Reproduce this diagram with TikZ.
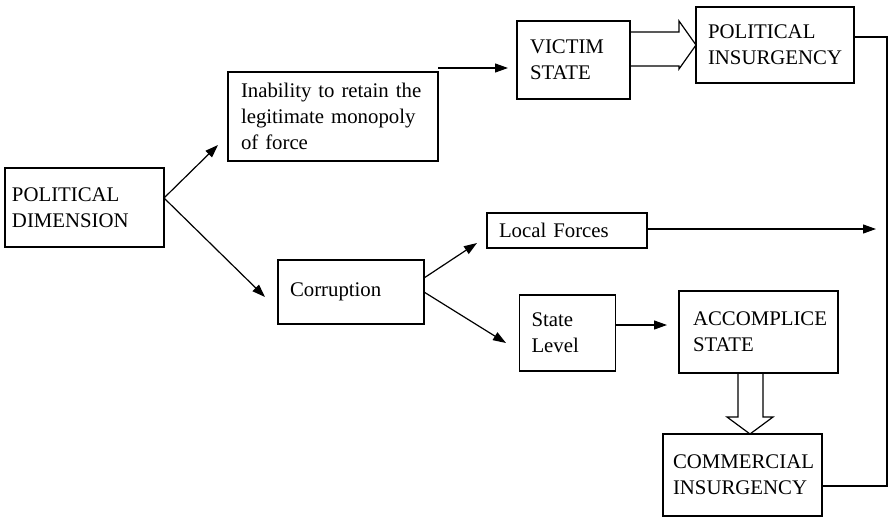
\documentclass[tikz,border=0pt]{standalone}
\usepackage{fontspec}
\setmainfont{Liberation Serif}
\usetikzlibrary{arrows.meta,calc}
\begin{document}
\begin{tikzpicture}[x=1pt,y=-1pt,
  box/.style={draw, line width=1.3pt, align=left, inner ysep=2pt, outer sep=0pt,
    font=\fontsize{20.8}{25.8}\selectfont},
  conn/.style={line width=1.2pt, -{Triangle[length=13pt,width=9pt]}},
  plain/.style={line width=1.2pt},
  hollow/.style={line width=1.2pt, line join=miter}]
\useasboundingbox (0,0) rectangle (888,519);

\node[box, inner xsep=7pt, text width=145pt, minimum height=79pt] (poldim) at (84.5,207.5) {POLITICAL\\DIMENSION};
\node[box, inner xsep=13pt, text width=184pt, minimum height=89pt] (inab) at (333,116.5) {Inability to retain the\\legitimate monopoly\\of force};
\node[box, inner xsep=13pt, text width=87pt, minimum height=78pt] (victim) at (573.5,60) {VICTIM\\STATE};
\node[box, inner xsep=12pt, text width=134pt, minimum height=76pt] (polins) at (775,45) {POLITICAL\\INSURGENCY};
\node[box, inner xsep=12pt, text width=136pt, minimum height=35pt] (localf) at (567,230.5) {Local Forces};
\node[box, inner xsep=12pt, text width=122pt, minimum height=64pt] (corr) at (351,292) {Corruption};
\node[box, inner xsep=12pt, text width=72pt, minimum height=76pt] (statel) at (567.5,333) {State\\Level};
\node[box, inner xsep=14pt, text width=131pt, minimum height=82pt] (accomp) at (758.5,332) {ACCOMPLICE\\STATE};
\node[box, inner xsep=10pt, text width=139pt, minimum height=82pt] (comm) at (742.5,475) {COMMERCIAL\\INSURGENCY};

% branch point and free ends
\coordinate (pd) at ($(poldim.east)+(0,-9.5)$);
\coordinate (tinab) at (218,145);
\coordinate (tcorr) at (265,297);
\coordinate (tlocal) at (477,243);
\coordinate (tstate) at (506,343);
\coordinate (tright) at (876,229);
\coordinate (rtop) at (887,37);
\coordinate (rbot) at (887,486);

\draw[conn] (pd) -- (tinab);
\draw[conn] (pd) -- (tcorr);
\draw[conn] (inab.east |- 0,68) -- ([xshift=-9pt]victim.west |- 0,68);
\draw[conn] (corr.east |- 0,278) -- (tlocal);
\draw[conn] (corr.east |- 0,292) -- (tstate);
\draw[conn] (statel.east |- 0,325) -- ([xshift=-12pt]accomp.west |- 0,325);
\draw[conn] (localf.east |- 0,229) -- (tright);
\draw[plain] (polins.east |- rtop) -- (rtop) -- (rbot) -- (comm.east |- rbot);

% hollow arrow VICTIM -> POLITICAL INSURGENCY
\draw[hollow] (victim.east |- 0,32) -- (679,32) -- (679,21) -- (polins.west |- 0,45)
  -- (679,69) -- (679,66) -- (victim.east |- 0,66);
% hollow arrow ACCOMPLICE -> COMMERCIAL
\draw[hollow] (738,0 |- accomp.south) -- (738,417) -- (727,417) -- (comm.north -| 750,0)
  -- (773,417) -- (763,417) -- (763,0 |- accomp.south);
\end{tikzpicture}
\end{document}
